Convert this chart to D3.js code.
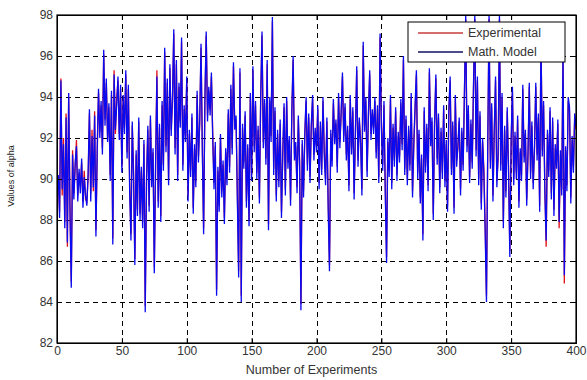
<!DOCTYPE html>
<html>
<head>
<meta charset="utf-8">
<title>Experimental vs Math. Model</title>
<script src="https://d3js.org/d3.v7.min.js"></script>
<style>
  body { margin: 0; background: #fff; font-family: Arial, "Liberation Sans", sans-serif; }
  .tick-label { font-size: 12px; fill: #333; }
  .grid { stroke: #000; stroke-width: 1; stroke-dasharray: 5,4; }
</style>
</head>
<body>
<div id="chart"></div>
<script>
// Values (run number 1..400)
const experimental = [
  90.0, 88.4, 94.9, 89.2, 92.0, 87.9, 93.2, 86.7, 94.0, 88.8,
  85.0, 91.4, 89.3, 90.5, 91.9, 89.2, 90.3, 89.6, 90.8, 88.9,
  90.4, 89.0, 88.9, 90.1, 93.2, 89.3, 92.4, 89.4, 93.3, 87.5,
  91.3, 94.2, 92.3, 93.6, 91.5, 96.1, 92.9, 94.7, 92.0, 93.5,
  90.2, 94.1, 87.1, 95.3, 92.2, 93.9, 94.8, 92.2, 94.4, 90.6,
  93.9, 92.5, 95.1, 91.3, 94.4, 89.7, 87.3, 92.6, 90.4, 86.1,
  91.2, 88.5, 92.8, 88.3, 90.4, 87.9, 91.7, 83.8, 90.1, 92.4,
  88.7, 92.9, 89.9, 91.3, 85.7, 90.6, 95.3, 88.9, 92.5, 88.2,
  93.6, 90.7, 96.2, 91.6, 94.7, 90.0, 95.4, 92.4, 93.8, 97.1,
  91.5, 95.6, 90.2, 94.5, 92.8, 96.7, 90.7, 93.4, 92.1, 94.8,
  89.2, 92.2, 90.4, 93.0, 88.6, 91.5, 89.9, 94.1, 91.1, 92.7,
  96.4, 91.7, 87.6, 93.8, 97.0, 93.1, 94.3, 93.4, 95.0, 92.3,
  89.8, 91.6, 84.6, 90.4, 88.7, 92.0, 89.4, 90.7, 88.1, 91.3,
  90.0, 93.2, 90.6, 94.4, 91.5, 95.5, 92.7, 92.9, 89.3, 85.5,
  95.2, 84.3, 92.5, 90.8, 93.1, 88.9, 91.5, 88.0, 94.0, 90.2,
  95.3, 91.6, 93.6, 90.3, 92.4, 89.1, 93.9, 97.0, 91.8, 93.7,
  91.0, 95.6, 87.8, 93.8, 92.1, 97.7, 90.5, 93.3, 89.2, 92.2,
  89.9, 92.7, 88.4, 91.1, 93.5, 89.5, 93.8, 90.8, 91.9, 89.0,
  93.2, 95.8, 91.2, 91.6, 89.6, 92.9, 90.9, 83.9, 91.7, 89.4,
  92.1, 93.8, 90.7, 93.0, 90.1, 92.5, 93.9, 91.2, 92.3, 91.6,
  93.4, 89.8, 92.6, 90.5, 93.8, 91.4, 90.0, 92.8, 88.9, 85.8,
  92.2, 90.9, 93.7, 92.0, 92.7, 90.6, 94.0, 91.8, 93.1, 95.0,
  92.1, 93.5, 91.2, 92.4, 89.7, 93.9, 91.5, 93.3, 89.3, 92.2,
  95.3, 90.9, 92.8, 92.0, 89.5, 96.5, 92.6, 93.8, 90.4, 93.0,
  95.1, 92.2, 93.2, 92.5, 93.8, 91.3, 93.4, 90.1, 96.9, 92.8,
  90.7, 93.6, 89.6, 86.2, 91.8, 90.4, 93.9, 89.8, 92.5, 90.9,
  93.3, 90.2, 92.1, 91.1, 93.7, 91.7, 95.8, 90.5, 92.9, 90.0,
  92.4, 90.7, 94.0, 89.4, 91.6, 93.4, 95.1, 90.3, 92.2, 89.1,
  91.0, 87.3, 93.3, 90.6, 92.5, 89.7, 95.2, 91.9, 92.8, 88.3,
  92.6, 94.9, 91.0, 93.0, 89.6, 92.3, 90.3, 93.4, 89.9, 91.7,
  88.7, 93.2, 94.8, 90.5, 92.6, 88.6, 93.9, 90.9, 91.5, 92.8,
  89.5, 92.3, 90.7, 94.0, 97.8, 91.6, 93.4, 90.1, 92.7, 90.8,
  94.4, 97.8, 91.4, 94.8, 90.0, 93.1, 88.8, 91.8, 90.5, 87.7,
  84.3, 91.6, 97.8, 90.8, 93.5, 89.2, 92.2, 94.8, 89.9, 91.0,
  97.8, 90.7, 94.0, 87.9, 92.4, 89.4, 93.3, 90.6, 86.5, 91.7,
  94.3, 90.0, 92.1, 90.3, 92.9, 88.9, 91.3, 90.2, 94.4, 91.1,
  92.2, 89.0, 91.1, 94.5, 90.3, 92.6, 89.8, 91.4, 94.5, 91.2,
  93.0, 88.7, 96.8, 91.4, 93.6, 89.6, 86.7, 92.2, 90.4, 93.3,
  89.3, 92.8, 88.5, 91.5, 90.8, 92.7, 87.6, 91.2, 89.5, 96.1,
  84.9, 91.4, 89.7, 93.8, 93.3, 89.1, 91.9, 90.6, 93.0, 92.4
];

const mathModel = [
  90.2, 88.1, 94.8, 89.5, 91.7, 87.6, 93.0, 86.9, 94.2, 88.4,
  84.7, 91.2, 89.0, 90.8, 91.6, 88.9, 90.5, 89.3, 91.0, 88.6,
  90.1, 89.2, 88.7, 90.3, 93.4, 88.9, 92.1, 89.6, 93.1, 87.2,
  91.5, 94.4, 92.0, 93.8, 91.2, 96.3, 92.6, 94.9, 91.8, 93.7,
  89.9, 94.3, 86.8, 95.1, 92.4, 93.6, 95.0, 91.9, 94.6, 90.3,
  94.1, 92.2, 95.3, 91.0, 94.6, 89.4, 87.0, 92.8, 90.1, 85.8,
  91.4, 88.2, 93.0, 88.0, 90.6, 87.6, 91.9, 83.5, 89.8, 92.6,
  88.4, 93.1, 89.6, 91.5, 85.4, 90.8, 95.0, 88.6, 92.7, 87.9,
  93.8, 90.4, 96.4, 91.3, 94.9, 89.7, 95.6, 92.1, 94.0, 97.3,
  91.2, 95.8, 89.9, 94.7, 92.5, 96.9, 90.4, 93.6, 91.8, 95.0,
  88.9, 92.4, 90.1, 93.2, 88.3, 91.7, 89.6, 94.3, 90.8, 92.9,
  96.6, 91.4, 87.3, 94.0, 97.2, 92.8, 94.5, 93.1, 95.2, 92.0,
  89.5, 91.8, 84.3, 90.6, 88.4, 92.2, 89.1, 90.9, 87.8, 91.5,
  89.7, 93.4, 90.3, 94.6, 91.2, 95.7, 92.4, 93.1, 89.0, 85.2,
  95.4, 84.0, 92.7, 90.5, 93.3, 88.6, 91.7, 87.7, 94.2, 89.9,
  95.5, 91.3, 93.8, 90.0, 92.6, 88.8, 94.1, 97.2, 91.5, 93.9,
  90.7, 95.8, 87.5, 94.0, 91.8, 97.9, 90.2, 93.5, 88.9, 92.4,
  89.6, 92.9, 88.1, 91.3, 93.7, 89.2, 94.0, 90.5, 92.1, 88.7,
  93.4, 96.0, 90.9, 91.8, 89.3, 93.1, 90.6, 83.6, 91.9, 89.1,
  92.3, 94.0, 90.4, 93.2, 89.8, 92.7, 94.1, 90.9, 92.5, 91.3,
  93.6, 89.5, 92.8, 90.2, 94.0, 91.1, 89.7, 93.0, 88.6, 85.5,
  92.4, 90.6, 93.9, 91.7, 92.9, 90.3, 94.2, 91.5, 93.3, 95.2,
  91.8, 93.7, 90.9, 92.6, 89.4, 94.1, 91.2, 93.5, 89.0, 92.4,
  95.5, 90.6, 93.0, 91.7, 89.2, 96.7, 92.3, 94.0, 90.1, 93.2,
  95.3, 91.9, 93.4, 92.2, 94.0, 91.0, 93.6, 89.8, 97.1, 92.5,
  90.4, 93.8, 89.3, 85.9, 92.0, 90.1, 94.1, 89.5, 92.7, 90.6,
  93.5, 89.9, 92.3, 90.8, 93.9, 91.4, 96.0, 90.2, 93.1, 89.7,
  92.6, 90.4, 94.2, 89.1, 91.8, 93.6, 95.3, 90.0, 92.4, 88.8,
  91.2, 87.0, 93.5, 90.3, 92.7, 89.4, 95.4, 91.6, 93.0, 88.0,
  92.8, 95.1, 90.7, 93.2, 89.3, 92.5, 90.0, 93.6, 89.6, 91.9,
  88.4, 93.4, 95.0, 90.2, 92.8, 88.3, 94.1, 90.6, 91.7, 93.0,
  89.2, 92.5, 90.4, 94.2, 98.0, 91.3, 93.6, 89.8, 92.9, 90.5,
  94.6, 98.0, 91.1, 95.0, 89.7, 93.3, 88.5, 92.0, 90.2, 87.4,
  84.0, 91.8, 98.0, 90.5, 93.7, 88.9, 92.4, 95.0, 89.6, 91.2,
  98.0, 90.4, 94.2, 87.6, 92.6, 89.1, 93.5, 90.3, 86.2, 91.9,
  94.5, 89.7, 92.3, 90.0, 93.1, 88.6, 91.5, 89.9, 94.6, 90.8,
  92.4, 88.7, 91.3, 94.7, 90.0, 92.8, 89.5, 91.6, 94.7, 90.9,
  93.2, 88.4, 97.0, 91.1, 93.8, 89.3, 87.0, 92.4, 90.1, 93.5,
  89.0, 93.0, 88.2, 91.7, 90.5, 92.9, 87.9, 91.4, 89.2, 96.3,
  85.3, 91.6, 89.4, 94.0, 93.5, 88.8, 92.1, 90.3, 93.2, 92.6
];

const xTicks = [0, 50, 100, 150, 200, 250, 300, 350, 400];
const yTicks = [82, 84, 86, 88, 90, 92, 94, 96, 98];
const seriesNames = ["Experimental", "Math. Model"];
const seriesColors = ["#e0101a", "#0a0af0"];

const width = 587, height = 380;
const margin = { top: 15, right: 11, bottom: 37, left: 57 };
const plotW = width - margin.left - margin.right;
const plotH = height - margin.top - margin.bottom;

const svg = d3.select("#chart").append("svg")
  .attr("width", width)
  .attr("height", height);

const x = d3.scaleLinear().domain([0, 400]).range([0, plotW]);
const y = d3.scaleLinear().domain([82, 98]).range([plotH, 0]);

const g = svg.append("g").attr("transform", `translate(${margin.left},${margin.top})`);

g.append("clipPath").attr("id", "clip")
  .append("rect").attr("width", plotW).attr("height", plotH);

// dashed grid
g.append("g").selectAll("line").data(xTicks.slice(1, -1)).enter().append("line")
  .attr("class", "grid")
  .attr("x1", d => Math.round(x(d)) + 0.5).attr("x2", d => Math.round(x(d)) + 0.5)
  .attr("y1", 0).attr("y2", plotH);
g.append("g").selectAll("line").data(yTicks.slice(1, -1)).enter().append("line")
  .attr("class", "grid")
  .attr("y1", d => Math.round(y(d)) + 0.5).attr("y2", d => Math.round(y(d)) + 0.5)
  .attr("x1", 0).attr("x2", plotW);

// series lines
const line = d3.line()
  .x((d, i) => x(i + 1))
  .y(d => y(d));

const lines = g.append("g").attr("clip-path", "url(#clip)");
[experimental, mathModel].forEach((vals, k) => {
  lines.append("path")
    .datum(vals)
    .attr("fill", "none")
    .attr("stroke", seriesColors[k])
    .attr("stroke-width", 1.3)
    .attr("stroke-linejoin", "miter")
    .attr("d", line);
});

// axes: bottom/left with labels, top/right with inward ticks only
const tickIn = -5;
g.append("g").attr("transform", `translate(0,${plotH})`)
  .call(d3.axisBottom(x).tickValues(xTicks).tickSize(tickIn).tickPadding(3))
  .call(a => a.selectAll("text").attr("class", "tick-label"));
g.append("g")
  .call(d3.axisLeft(y).tickValues(yTicks).tickSize(tickIn).tickPadding(4))
  .call(a => a.selectAll("text").attr("class", "tick-label"));
g.append("g")
  .call(d3.axisTop(x).tickValues(xTicks).tickSize(tickIn).tickFormat(""));
g.append("g").attr("transform", `translate(${plotW},0)`)
  .call(d3.axisRight(y).tickValues(yTicks).tickSize(tickIn).tickFormat(""));
g.selectAll(".domain").attr("stroke", "#000");
g.selectAll(".tick line").attr("stroke", "#000");

g.append("rect")
  .attr("width", plotW).attr("height", plotH)
  .attr("fill", "none").attr("stroke", "#000").attr("stroke-width", 1.2);

// axis titles
svg.append("text")
  .attr("x", margin.left + plotW / 2 - 5)
  .attr("y", 374)
  .attr("text-anchor", "middle")
  .attr("font-size", 12.5)
  .attr("fill", "#333")
  .text("Number of Experiments");

svg.append("text")
  .attr("transform", "translate(14,176) rotate(-90)")
  .attr("text-anchor", "middle")
  .attr("font-size", 9)
  .attr("fill", "#222")
  .text("Values of alpha");

// legend
const lg = svg.append("g").attr("transform", "translate(408,22)");
lg.append("rect")
  .attr("width", 157).attr("height", 40)
  .attr("fill", "#fff").attr("stroke", "#000").attr("stroke-width", 1);
seriesNames.forEach((name, k) => {
  const ly = 11 + k * 19;
  lg.append("line")
    .attr("x1", 10).attr("x2", 55)
    .attr("y1", ly).attr("y2", ly)
    .attr("stroke", k === 0 ? "#c83c3c" : "#101060")
    .attr("stroke-width", 1.3);
  lg.append("text")
    .attr("x", 60).attr("y", ly + 4)
    .attr("font-size", 12.5)
    .attr("fill", "#333")
    .text(name);
});
</script>
</body>
</html>
